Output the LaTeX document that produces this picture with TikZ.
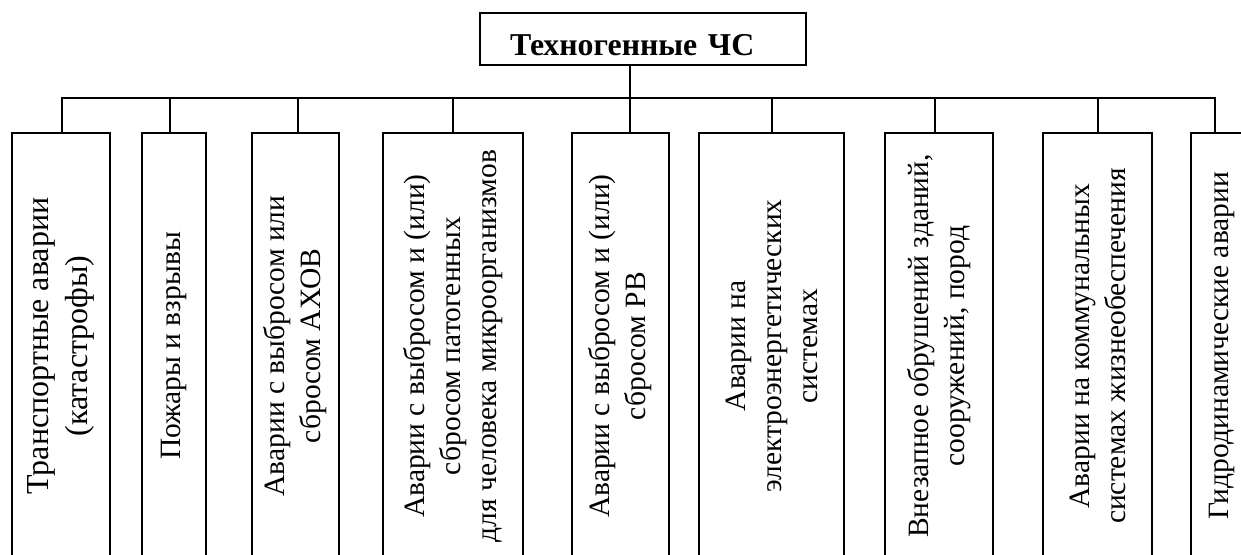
\documentclass[tikz,border=0pt]{standalone}
\usepackage{fontspec}
\setmainfont{Liberation Serif}
\begin{document}
\begin{tikzpicture}[x=1pt,y=-1pt,line width=1.5pt,
  titlebox/.style={draw,inner xsep=30pt,inner ysep=0pt,text width=266pt,align=left,
    minimum height=52pt,text height=42pt,text depth=10pt,font=\fontsize{31.8}{38}\selectfont\bfseries},
  catbox/.style={draw,rotate=90,inner sep=0pt,align=center,minimum width=426pt,
    minimum height=#1,font=\fontsize{29.5}{36}\selectfont}]
\useasboundingbox (0,0) rectangle (1241,554);

% root
\node[titlebox] (top) at (643,39) {Техногенные ЧС};

% categories (boxes run past the lower edge of the page)
\node[catbox=98pt,font=\fontsize{32}{39}\selectfont] (b1) at (61,346) {Транспортные аварии\\(катастрофы)};
\node[catbox=64pt]  (b2) at (174,346)   {Пожары и взрывы};
\node[catbox=87pt]  (b3) at (295.5,346) {Аварии с выбросом или\\сбросом АХОВ};
\node[catbox=140pt] (b4) at (453,346)   {Аварии с выбросом и (или)\\сбросом патогенных\\для человека микроорганизмов};
\node[catbox=97pt]  (b5) at (620.5,346) {Аварии с выбросом и (или)\\сбросом РВ};
\node[catbox=145pt] (b6) at (771.5,346) {Аварии на\\электроэнергетических\\системах};
\node[catbox=108pt] (b7) at (939,346)   {Внезапное обрушений зданий,\\сооружений, пород};
\node[catbox=109pt] (b8) at (1097.5,346){Аварии на коммунальных\\системах жизнеобеспечения};
\node[catbox=62pt]  (b9) at (1222,346)  {Гидродинамические аварии};

% bus line
\coordinate (bus) at (0,98);
\draw ([xshift=-13pt]top.south) -- ([xshift=-13pt]top.south |- b5.east);
\draw ([xshift=1pt]b1.east) -- ([xshift=1pt]b1.east |- bus) -- ([xshift=-7pt]b9.east |- bus) -- ([xshift=-7pt]b9.east);
\draw ([xshift=-4pt]b2.east) -- ([xshift=-4pt]b2.east |- bus);
\draw ([xshift=2.5pt]b3.east) -- ([xshift=2.5pt]b3.east |- bus);
\draw (b4.east) -- (b4.east |- bus);
\draw ([xshift=0.5pt]b6.east) -- ([xshift=0.5pt]b6.east |- bus);
\draw ([xshift=-4pt]b7.east) -- ([xshift=-4pt]b7.east |- bus);
\draw ([xshift=0.5pt]b8.east) -- ([xshift=0.5pt]b8.east |- bus);
\end{tikzpicture}
\end{document}
